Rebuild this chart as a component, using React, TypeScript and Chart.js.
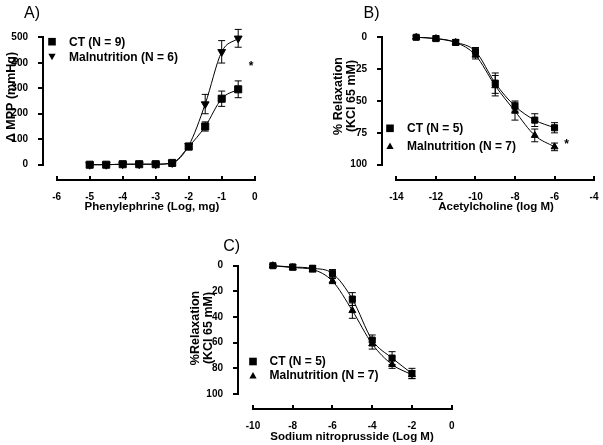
import React, { useEffect, useRef } from 'react';
import { Chart, registerables } from 'chart.js';

Chart.register(...registerables);

const FONT = '"Liberation Sans", Arial, Helvetica, sans-serif';

// ---------- Panel A: Phenylephrine ----------
const phenylDose = [-5, -4.5, -4, -3.5, -3, -2.5, -2, -1.5, -1, -0.5];
const phenylCT = [0, 0, 2, 2, 2, 7, 71, 150, 259, 296];
const phenylCTErr = [2, 2, 2, 2, 2, 3, 9, 18, 30, 33];
const phenylMal = [0, 0, 2, 2, 2, 7, 75, 238, 443, 496];
const phenylMalErr = [2, 2, 2, 2, 2, 3, 9, 38, 44, 35];
const phenylXTicks = [-6, -5, -4, -3, -2, -1, 0];
const phenylYTicks = [0, 100, 200, 300, 400, 500];

// ---------- Panel B: Acetylcholine ----------
const achDose = [-13, -12, -11, -10, -9, -8, -7, -6];
const achCT = [0, 1, 4, 11, 36, 54, 65, 71];
const achCTErr = [1, 2, 2, 3, 8, 4, 5, 4];
const achMal = [0, 1, 4, 14, 38, 58, 77, 86];
const achMalErr = [1, 1, 2, 3, 8, 7, 5, 3];
const achXTicks = [-14, -12, -10, -8, -6, -4];
const achYTicks = [0, 25, 50, 75, 100];

// ---------- Panel C: Sodium nitroprusside ----------
const snpDose = [-9, -8, -7, -6, -5, -4, -3, -2];
const snpCT = [0, 1, 2, 6, 26, 58, 72, 84];
const snpCTErr = [1, 2, 2, 3, 5, 4, 5, 4];
const snpMal = [0, 1.5, 3, 12, 35, 61, 77, 85];
const snpMalErr = [1, 2, 2, 2, 6, 4, 3, 3];
const snpXTicks = [-10, -8, -6, -4, -2, 0];
const snpYTicks = [0, 20, 40, 60, 80, 100];

const W = 603;
const H = 445;
const XH = 25;

type Series = {
  label: string;
  xs: number[];
  ys: number[];
  errs: number[];
  style: 'rect' | 'triangle';
  rotation: number;
  radius: number;
};

type PanelCfg = {
  area: { left: number; top: number; right: number; bottom: number };
  xMin: number;
  xMax: number;
  yMin: number;
  yMax: number;
  reverseY: boolean;
  xTicks: number[];
  yTicks: number[];
  series: Series[];
  panelLabel: { text: string; x: number; y: number };
  xTitle: { text: string; x: number; y: number };
  yTitle: { lines: string[]; x: number; y: number; gap: number };
  legend: { mx: number; tx: number; ys: number[]; size: number };
  star: { x: number; y: number } | null;
};

const panelA: PanelCfg = {
  area: { left: 43, top: 25, right: 268, bottom: 180 },
  xMin: -6.415,
  xMax: 0.403,
  yMin: -60,
  yMax: 548.3,
  reverseY: false,
  xTicks: phenylXTicks,
  yTicks: phenylYTicks,
  series: [
    { label: 'CT (N = 9)', xs: phenylDose, ys: phenylCT, errs: phenylCTErr, style: 'rect', rotation: 0, radius: 5 },
    { label: 'Malnutrition (N = 6)', xs: phenylDose, ys: phenylMal, errs: phenylMalErr, style: 'triangle', rotation: 180, radius: 4.5 },
  ],
  panelLabel: { text: 'A)', x: 32, y: 13.5 },
  xTitle: { text: 'Phenylephrine (Log, mg)', x: 152, y: 207 },
  yTitle: { lines: ['\u0394 MPP (mmHg)'], x: 11.5, y: 97, gap: 13 },
  legend: { mx: 52, tx: 69, ys: [41.7, 56.7], size: 3.8 },
  star: { x: 251, y: 64 },
};

const panelB: PanelCfg = {
  area: { left: 382, top: 25, right: 602, bottom: 180 },
  xMin: -14.729,
  xMax: -3.816,
  yMin: -9.65,
  yMax: 112.0,
  reverseY: true,
  xTicks: achXTicks,
  yTicks: achYTicks,
  series: [
    { label: 'CT (N = 5)', xs: achDose, ys: achCT, errs: achCTErr, style: 'rect', rotation: 0, radius: 4.3 },
    { label: 'Malnutrition (N = 7)', xs: achDose, ys: achMal, errs: achMalErr, style: 'triangle', rotation: 0, radius: 4 },
  ],
  panelLabel: { text: 'B)', x: 371.5, y: 13.5 },
  xTitle: { text: 'Acetylcholine (log M)', x: 496, y: 207 },
  yTitle: { lines: ['% Relaxation', '(KCl 65 mM)'], x: 338.7, y: 96, gap: 13 },
  legend: { mx: 390, tx: 407, ys: [128.3, 146], size: 3.8 },
  star: { x: 566.7, y: 142 },
};

const panelC: PanelCfg = {
  area: { left: 238, top: 255, right: 460, bottom: 409 },
  xMin: -10.755,
  xMax: 0.418,
  yMin: -8.34,
  yMax: 111.69,
  reverseY: true,
  xTicks: snpXTicks,
  yTicks: snpYTicks,
  series: [
    { label: 'CT (N = 5)', xs: snpDose, ys: snpCT, errs: snpCTErr, style: 'rect', rotation: 0, radius: 4.3 },
    { label: 'Malnutrition (N = 7)', xs: snpDose, ys: snpMal, errs: snpMalErr, style: 'triangle', rotation: 0, radius: 4 },
  ],
  panelLabel: { text: 'C)', x: 231.7, y: 246.7 },
  xTitle: { text: 'Sodium nitroprusside (Log M)', x: 352, y: 436.5 },
  yTitle: { lines: ['%Relaxation', '(KCl 65 mM)'], x: 196, y: 328, gap: 13 },
  legend: { mx: 253, tx: 269.5, ys: [361.5, 375.5], size: 3.8 },
  star: null,
};

function drawMarker(ctx: CanvasRenderingContext2D, style: string, rotation: number, x: number, y: number, r: number) {
  ctx.beginPath();
  if (style === 'rect') {
    ctx.rect(x - r, y - r, 2 * r, 2 * r);
  } else {
    const dir = rotation === 180 ? 1 : -1;
    const h = r * 1.7;
    ctx.moveTo(x, y + dir * h * 0.55);
    ctx.lineTo(x - r * 0.95, y - dir * h * 0.45);
    ctx.lineTo(x + r * 0.95, y - dir * h * 0.45);
    ctx.closePath();
  }
  ctx.fill();
}

function makeDecor(cfg: PanelCfg) {
  return {
    id: 'prismDecor',
    beforeDatasetsDraw(chart: any) {
      const ctx: CanvasRenderingContext2D = chart.ctx;
      const xs = chart.scales.x;
      const ys = chart.scales.y;
      ctx.save();
      ctx.strokeStyle = '#000';
      ctx.lineWidth = 1;
      const cap = 3.5;
      cfg.series.forEach((s) => {
        s.xs.forEach((xv, i) => {
          const e = s.errs[i];
          const px = xs.getPixelForValue(xv);
          const y1 = ys.getPixelForValue(s.ys[i] - e);
          const y2 = ys.getPixelForValue(s.ys[i] + e);
          ctx.beginPath();
          ctx.moveTo(px, y1);
          ctx.lineTo(px, y2);
          ctx.moveTo(px - cap, y1);
          ctx.lineTo(px + cap, y1);
          ctx.moveTo(px - cap, y2);
          ctx.lineTo(px + cap, y2);
          ctx.stroke();
        });
      });
      ctx.restore();
    },
    afterDraw(chart: any) {
      const ctx: CanvasRenderingContext2D = chart.ctx;
      const xs = chart.scales.x;
      const ys = chart.scales.y;
      const area = chart.chartArea;
      ctx.save();
      ctx.fillStyle = '#000';

      // detached Prism-style axes spanning the tick range
      const x0 = xs.getPixelForValue(cfg.xTicks[0]);
      const x1 = xs.getPixelForValue(cfg.xTicks[cfg.xTicks.length - 1]);
      ctx.fillRect(Math.round(x0) - 1, area.bottom - 1, Math.round(x1 - x0) + 2, 2);
      cfg.xTicks.forEach((t) => {
        const px = Math.round(xs.getPixelForValue(t));
        ctx.fillRect(px - 1, area.bottom - 4, 2, 4);
      });

      const y0 = ys.getPixelForValue(cfg.yTicks[0]);
      const y1 = ys.getPixelForValue(cfg.yTicks[cfg.yTicks.length - 1]);
      const ya = Math.round(Math.min(y0, y1));
      const yb = Math.round(Math.max(y0, y1));
      ctx.fillRect(area.left - 1, ya - 1, 2, yb - ya + 2);
      cfg.yTicks.forEach((t) => {
        const py = Math.round(ys.getPixelForValue(t));
        ctx.fillRect(area.left - 5, py - 1, 5, 2);
      });

      ctx.font = `16px ${FONT}`;
      ctx.textAlign = 'center';
      ctx.textBaseline = 'middle';
      ctx.fillText(cfg.panelLabel.text, cfg.panelLabel.x, cfg.panelLabel.y);

      ctx.font = `bold 11.5px ${FONT}`;
      ctx.fillText(cfg.xTitle.text, cfg.xTitle.x, cfg.xTitle.y);

      ctx.font = `bold 12.5px ${FONT}`;
      cfg.yTitle.lines.forEach((line, i) => {
        ctx.save();
        ctx.translate(cfg.yTitle.x + i * cfg.yTitle.gap, cfg.yTitle.y);
        ctx.rotate(-Math.PI / 2);
        ctx.fillText(line, 0, 0);
        ctx.restore();
      });

      ctx.font = `bold 12px ${FONT}`;
      ctx.textAlign = 'left';
      cfg.series.forEach((s, i) => {
        const ly = cfg.legend.ys[i];
        drawMarker(ctx, s.style, s.rotation, cfg.legend.mx, ly, cfg.legend.size);
        ctx.fillText(s.label, cfg.legend.tx, ly + 0.5);
      });

      if (cfg.star) {
        ctx.font = `bold 12px ${FONT}`;
        ctx.textAlign = 'center';
        ctx.fillText('*', cfg.star.x, cfg.star.y + 3);
      }
      ctx.restore();
    },
  };
}

function buildChart(canvas: HTMLCanvasElement, cfg: PanelCfg) {
  const tickFont = { family: FONT, size: 10, weight: 'bold' as const };
  return new Chart(canvas, {
    type: 'line',
    data: {
      datasets: cfg.series.map((s) => ({
        label: s.label,
        data: s.xs.map((x, i) => ({ x, y: s.ys[i] })),
        borderColor: '#000',
        backgroundColor: '#000',
        borderWidth: 1,
        pointStyle: s.style,
        rotation: s.rotation,
        pointRadius: s.radius,
        pointBorderWidth: 1,
        pointBackgroundColor: '#000',
        pointBorderColor: '#000',
        cubicInterpolationMode: 'monotone' as const,
        fill: false,
      })),
    },
    options: {
      responsive: false,
      animation: false,
      layout: {
        padding: {
          left: 0,
          top: cfg.area.top,
          right: W - cfg.area.right,
          bottom: H - cfg.area.bottom - XH,
        },
      },
      plugins: {
        legend: { display: false },
        tooltip: { enabled: false },
      },
      scales: {
        x: {
          type: 'linear',
          position: 'bottom',
          bounds: 'data',
          min: cfg.xMin,
          max: cfg.xMax,
          afterBuildTicks: (scale: any) => {
            scale.ticks = cfg.xTicks.map((v) => ({ value: v }));
          },
          afterFit: (scale: any) => {
            scale.height = XH;
            scale.paddingLeft = 0;
            scale.paddingRight = 0;
          },
          border: { display: false },
          grid: { display: false },
          ticks: {
            color: '#000',
            font: tickFont,
            padding: 3,
            autoSkip: false,
            maxRotation: 0,
            callback: (v: any) => String(v),
          },
        },
        y: {
          type: 'linear',
          position: 'left',
          bounds: 'data',
          reverse: cfg.reverseY,
          min: cfg.yMin,
          max: cfg.yMax,
          afterBuildTicks: (scale: any) => {
            scale.ticks = cfg.yTicks.map((v) => ({ value: v }));
          },
          afterFit: (scale: any) => {
            scale.width = cfg.area.left;
            scale.paddingTop = 0;
            scale.paddingBottom = 0;
          },
          border: { display: false },
          grid: { display: false },
          ticks: {
            color: '#000',
            font: tickFont,
            padding: 7,
            autoSkip: false,
            callback: (v: any) => String(v),
          },
        },
      },
    } as any,
    plugins: [makeDecor(cfg)],
  });
}

export default function App() {
  const refA = useRef<HTMLCanvasElement>(null);
  const refB = useRef<HTMLCanvasElement>(null);
  const refC = useRef<HTMLCanvasElement>(null);

  useEffect(() => {
    const charts = [
      buildChart(refA.current!, panelA),
      buildChart(refB.current!, panelB),
      buildChart(refC.current!, panelC),
    ];
    return () => charts.forEach((c) => c.destroy());
  }, []);

  const canvasStyle: React.CSSProperties = {
    position: 'absolute',
    left: 0,
    top: 0,
    width: W,
    height: H,
  };

  return (
    <div
      style={{
        position: 'fixed',
        left: 0,
        top: 0,
        width: W,
        height: H,
        background: '#fff',
        overflow: 'hidden',
      }}
    >
      <canvas ref={refA} width={W} height={H} style={canvasStyle} />
      <canvas ref={refB} width={W} height={H} style={canvasStyle} />
      <canvas ref={refC} width={W} height={H} style={canvasStyle} />
    </div>
  );
}
